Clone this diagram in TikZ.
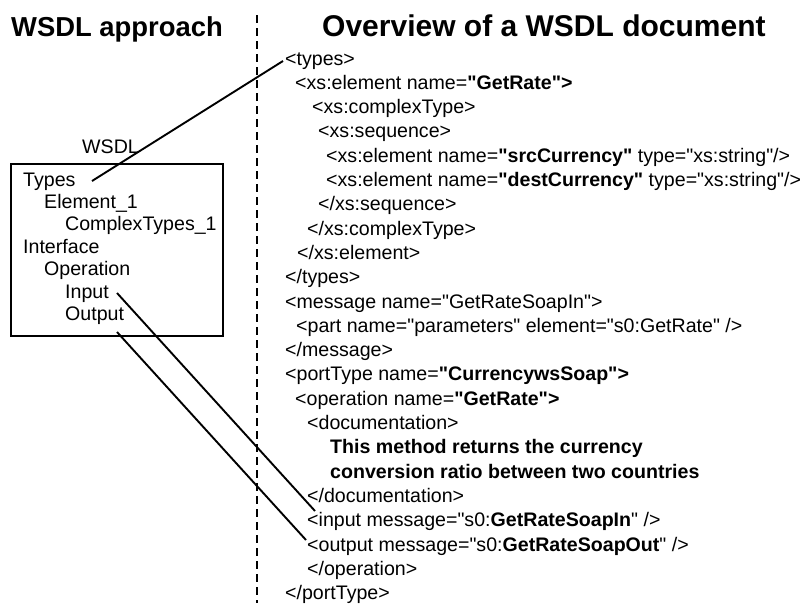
\documentclass[tikz,border=0pt]{standalone}
\usepackage{fontspec}
\setmainfont{Liberation Sans}[Ligatures=TeXOff]
\begin{document}
\begin{tikzpicture}[x=1pt,y=-1pt,
  code/.style={anchor=base west,inner sep=0pt,font=\fontsize{19.6}{24}\selectfont},
  titletext/.style={anchor=base west,inner sep=0pt,font=\fontsize{27.4}{32}\selectfont\bfseries},
  conn/.style={line width=1.9pt},
  divider/.style={line width=1.5pt,dash pattern=on 8pt off 5pt}]
\useasboundingbox (0,0) rectangle (802,603);
% titles
\node[titletext] (tl) at (11,36) {WSDL approach};
\node[titletext,font=\fontsize{30}{34}\selectfont\bfseries] (tr) at (322,36) {Overview of a WSDL document};
% divider
\coordinate (dtop) at (257,15);
\coordinate (dbot) at (257,603);
\draw[divider] (dtop) -- (dbot);
% left box
\node[code] (wsdl) at (82,153) {WSDL};
\node[draw,line width=1.6pt,anchor=north west,minimum width=212pt,minimum height=172pt,inner sep=0pt] (box) at (10,163) {};
\node[code] (b1) at (23,186) {Types};
\node[code] (b2) at (44,208.4) {Element\_1};
\node[code] (b3) at (65,230.8) {ComplexTypes\_1};
\node[code] (b4) at (23,253.2) {Interface};
\node[code] (b5) at (44,275.6) {Operation};
\node[code] (b6) at (65,298) {Input};
\node[code] (b7) at (65,320.4) {Output};
% code lines
\node[code] (l0) at (285,65) {<types>};
\node[code] (l1) at (295,89.3) {<xs:element name=\textbf{"GetRate">}};
\node[code] (l2) at (312,113.6) {<xs:complexType>};
\node[code] (l3) at (318,137.9) {<xs:sequence>};
\node[code] (l4) at (326,162.2) {<xs:element name=\textbf{"srcCurrency"} type="xs:string"/>};
\node[code] (l5) at (326,186.5) {<xs:element name=\textbf{"destCurrency"} type="xs:string"/>};
\node[code] (l6) at (318,210.8) {</xs:sequence>};
\node[code] (l7) at (307,235.1) {</xs:complexType>};
\node[code] (l8) at (297,259.4) {</xs:element>};
\node[code] (l9) at (285,283.7) {</types>};
\node[code] (l10) at (285,308) {<message name="GetRateSoapIn">};
\node[code] (l11) at (296,332.3) {<part name="parameters" element="s0:GetRate" />};
\node[code] (l12) at (285,356.6) {</message>};
\node[code] (l13) at (285,380.9) {<portType name=\textbf{"CurrencywsSoap">}};
\node[code] (l14) at (295,405.2) {<operation name=\textbf{"GetRate">}};
\node[code] (l15) at (307,429.5) {<documentation>};
\node[code] (l16) at (330,453.8) {\textbf{This method returns the currency}};
\node[code] (l17) at (330,478.1) {\textbf{conversion ratio between two countries}};
\node[code] (l18) at (307,502.4) {</documentation>};
\node[code] (l19) at (307,526.7) {<input message="s0:\textbf{GetRateSoapIn}" />};
\node[code] (l20) at (307,551) {<output message="s0:\textbf{GetRateSoapOut}" />};
\node[code] (l21) at (307,575.3) {</operation>};
\node[code] (l22) at (285,599.6) {</portType>};
% connectors
\coordinate (c1s) at (92,181);
\coordinate (c1e) at (283,61);
\coordinate (c2s) at (117,293);
\coordinate (c2e) at (315,511);
\coordinate (c3s) at (117,332);
\coordinate (c3e) at (306,540);
\draw[conn] (c1s) -- (c1e);
\draw[conn] (c2s) -- (c2e);
\draw[conn] (c3s) -- (c3e);
\end{tikzpicture}
\end{document}
